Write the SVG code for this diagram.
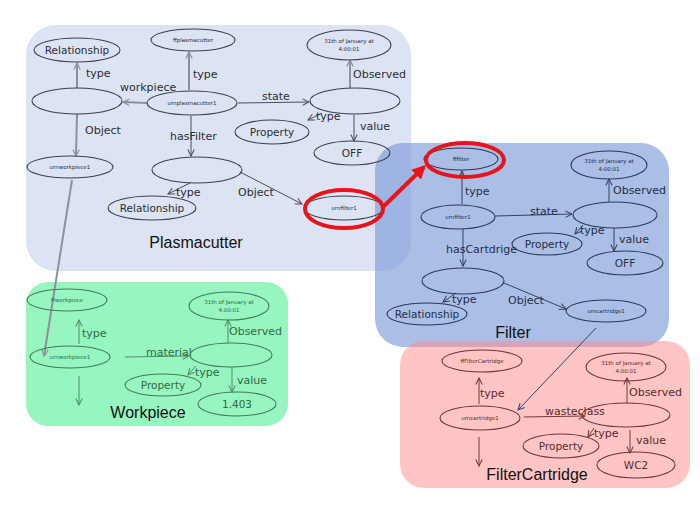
<svg xmlns="http://www.w3.org/2000/svg" width="700" height="525" viewBox="0 0 700 525">
<style>
.n{fill:none;stroke-width:1.1}
.p .n{stroke:#3b404c}
.f .n{stroke:#2c3854}
.w .n{stroke:#3f7d58}
.c .n{stroke:#6e3535}
.t{font-family:"DejaVu Sans","Noto Sans",sans-serif;text-anchor:middle}
.big{font-size:10.5px}
.tiny{font-size:5.5px}
.p .t,.lp{fill:#2a2e36}
.f .t,.lf{fill:#242e48}
.w .t,.lw{fill:#2f6a48}
.c .t,.lc{fill:#5a2a2a}
.lbl{font-family:"DejaVu Sans","Noto Sans",sans-serif;font-size:11px}
.e{fill:none;stroke-width:1}
.ep{stroke:#4a4f5a}
.eg{stroke:#8c919c;stroke-width:2}
.ef{stroke:#36425e}
.ew{stroke:#4f8d68}
.ec{stroke:#703a3a}
.title{font-family:"Liberation Sans",Arial,sans-serif;font-size:16px;fill:#111;text-anchor:middle}
</style>
<defs>
<marker id="ap" viewBox="0 0 10 10" refX="9" refY="5" markerWidth="8" markerHeight="8" markerUnits="userSpaceOnUse" orient="auto"><path d="M1,1 L9,5 L1,9" fill="none" stroke="#4a4f5a" stroke-width="1.3"/></marker>
<marker id="ag" viewBox="0 0 10 10" refX="9" refY="5" markerWidth="8" markerHeight="8" markerUnits="userSpaceOnUse" orient="auto"><path d="M1,1 L9,5 L1,9" fill="none" stroke="#8c919c" stroke-width="1.5"/></marker>
<marker id="af" viewBox="0 0 10 10" refX="9" refY="5" markerWidth="8" markerHeight="8" markerUnits="userSpaceOnUse" orient="auto"><path d="M1,1 L9,5 L1,9" fill="none" stroke="#36425e" stroke-width="1.3"/></marker>
<marker id="aw" viewBox="0 0 10 10" refX="9" refY="5" markerWidth="8" markerHeight="8" markerUnits="userSpaceOnUse" orient="auto"><path d="M1,1 L9,5 L1,9" fill="none" stroke="#4f8d68" stroke-width="1.3"/></marker>
<marker id="ac" viewBox="0 0 10 10" refX="9" refY="5" markerWidth="8" markerHeight="8" markerUnits="userSpaceOnUse" orient="auto"><path d="M1,1 L9,5 L1,9" fill="none" stroke="#703a3a" stroke-width="1.3"/></marker>
<marker id="ar" viewBox="0 0 10 10" refX="8" refY="5" markerWidth="14" markerHeight="14" markerUnits="userSpaceOnUse" orient="auto"><path d="M0,0 L10,5 L0,10 Z" fill="#e8141a"/></marker>
</defs>
<rect width="700" height="525" fill="#fff"/>
<g id="panels">
<rect x="26" y="25" width="385" height="246" rx="30" fill="#dce3f2"/>
<rect x="375" y="143" width="294" height="204" rx="28" fill="#7c9bd8" fill-opacity="0.65"/>
<rect x="26" y="282" width="262" height="144" rx="22" fill="#97f5bf"/>
<rect x="400" y="341" width="290" height="147" rx="24" fill="#ff8a8a" fill-opacity="0.5"/>
<text class="title" x="196" y="248">Plasmacutter</text>
<text class="title" x="513" y="338">Filter</text>
<text class="title" x="148" y="418">Workpiece</text>
<text class="title" x="537" y="480">FilterCartridge</text>
</g>
<g id="connectors">
<!-- Plasmacutter -->
<line class="e eg" x1="77" y1="88" x2="77" y2="63" marker-end="url(#ag)"/>
<text class="lbl lp" x="86" y="77">type</text>
<line class="e eg" x1="147" y1="103" x2="123" y2="102" marker-end="url(#ag)"/>
<text class="lbl lp" x="120" y="91">workpiece</text>
<line class="e eg" x1="189" y1="90" x2="189" y2="52" marker-end="url(#ag)"/>
<text class="lbl lp" x="193" y="78">type</text>
<line class="e ep" x1="238" y1="103" x2="309" y2="102" marker-end="url(#ap)"/>
<text class="lbl lp" x="262" y="100">state</text>
<line class="e eg" x1="350" y1="88" x2="350" y2="60" marker-end="url(#ag)"/>
<text class="lbl lp" x="353" y="78">Observed</text>
<line class="e ep" x1="322" y1="113" x2="308" y2="120" marker-end="url(#ap)"/>
<text class="lbl lp" x="316" y="120">type</text>
<line class="e ep" x1="354" y1="115" x2="354" y2="141" marker-end="url(#ap)"/>
<text class="lbl lp" x="360" y="130">value</text>
<line class="e eg" x1="77" y1="114" x2="76" y2="156" marker-end="url(#ag)"/>
<text class="lbl lp" x="85" y="134">Object</text>
<line class="e ep" x1="191" y1="116" x2="191" y2="156" marker-end="url(#ap)"/>
<text class="lbl lp" x="170" y="140">hasFilter</text>
<line class="e ep" x1="190" y1="183" x2="168" y2="194" marker-end="url(#ap)"/>
<text class="lbl lp" x="176" y="196">type</text>
<line class="e ep" x1="240" y1="172" x2="302" y2="204" marker-end="url(#ap)"/>
<text class="lbl lp" x="238" y="196">Object</text>
<line class="e eg" x1="72" y1="180" x2="44" y2="356" stroke-width="1.6" marker-end="url(#ag)"/>
<!-- Filter -->
<line class="e ef" x1="462" y1="204" x2="462" y2="171" marker-end="url(#af)"/>
<text class="lbl lf" x="465" y="195">type</text>
<line class="e ef" x1="495" y1="216" x2="572" y2="214" marker-end="url(#af)"/>
<text class="lbl lf" x="530" y="215">state</text>
<line class="e ef" x1="609" y1="202" x2="609" y2="179" marker-end="url(#af)"/>
<text class="lbl lf" x="613" y="194">Observed</text>
<line class="e ef" x1="583" y1="225" x2="575" y2="234" marker-end="url(#af)"/>
<text class="lbl lf" x="580" y="234">type</text>
<line class="e ef" x1="614" y1="228" x2="614" y2="251" marker-end="url(#af)"/>
<text class="lbl lf" x="619" y="243">value</text>
<line class="e ef" x1="463" y1="229" x2="463" y2="266" marker-end="url(#af)"/>
<text class="lbl lf" x="446" y="253">hasCartdrige</text>
<line class="e ef" x1="456" y1="293" x2="443" y2="302" marker-end="url(#af)"/>
<text class="lbl lf" x="452" y="303">type</text>
<line class="e ef" x1="504" y1="283" x2="566" y2="309" marker-end="url(#af)"/>
<text class="lbl lf" x="508" y="304">Object</text>
<line class="e ef" x1="596" y1="328" x2="518" y2="410" marker-end="url(#af)"/>
<!-- Workpiece -->
<line class="e ew" x1="79" y1="344" x2="79" y2="320" marker-end="url(#aw)"/>
<text class="lbl lw" x="82" y="337">type</text>
<line class="e ew" x1="125" y1="357" x2="189" y2="356" marker-end="url(#aw)"/>
<text class="lbl lw" x="146" y="356">material</text>
<line class="e ew" x1="228" y1="343" x2="228" y2="320" marker-end="url(#aw)"/>
<text class="lbl lw" x="229" y="335">Observed</text>
<line class="e ew" x1="196" y1="366" x2="188" y2="375" marker-end="url(#aw)"/>
<text class="lbl lw" x="195" y="376">type</text>
<line class="e ew" x1="232" y1="367" x2="232" y2="392" marker-end="url(#aw)"/>
<text class="lbl lw" x="237" y="384">value</text>
<line class="e ew" x1="79" y1="376" x2="79" y2="405" marker-end="url(#aw)"/>
<!-- FilterCartridge -->
<line class="e ec" x1="479" y1="404" x2="479" y2="378" marker-end="url(#ac)"/>
<text class="lbl lc" x="480" y="397">type</text>
<line class="e ec" x1="524" y1="417" x2="585" y2="416" marker-end="url(#ac)"/>
<text class="lbl lc" x="545" y="415">wasteclass</text>
<line class="e ec" x1="627" y1="403" x2="627" y2="378" marker-end="url(#ac)"/>
<text class="lbl lc" x="629" y="396">Observed</text>
<line class="e ec" x1="594" y1="428" x2="588" y2="437" marker-end="url(#ac)"/>
<text class="lbl lc" x="594" y="437">type</text>
<line class="e ec" x1="630" y1="430" x2="630" y2="453" marker-end="url(#ac)"/>
<text class="lbl lc" x="636" y="444">value</text>
<line class="e ec" x1="479" y1="437" x2="479" y2="466" marker-end="url(#ac)"/>
</g>
<!-- Plasmacutter nodes -->
<g class="p">
<g id="p-relationship1"><ellipse class="n" cx="77" cy="50" rx="43" ry="12"/><text class="t big" x="77" y="54">Relationship</text></g>
<g id="p-ffplasmacutter"><ellipse class="n" cx="193" cy="40" rx="42" ry="11"/><text class="t tiny" x="193" y="42">ffplasmacutter</text></g>
<g id="p-time"><ellipse class="n" cx="349" cy="45" rx="42" ry="15"/><text class="t tiny" x="349" y="43">31th of January at</text><text class="t tiny" x="349" y="51">4:00:01</text></g>
<g id="p-blank1"><ellipse class="n" cx="77" cy="101" rx="45" ry="13"/></g>
<g id="p-urnplasmacutter1"><ellipse class="n" cx="192" cy="103" rx="45" ry="12"/><text class="t tiny" x="192" y="105">urnplasmacutter1</text></g>
<g id="p-state"><ellipse class="n" cx="355" cy="101" rx="45" ry="13"/></g>
<g id="p-property"><ellipse class="n" cx="272" cy="132" rx="37" ry="12"/><text class="t big" x="272" y="136">Property</text></g>
<g id="p-off"><ellipse class="n" cx="352" cy="153" rx="38" ry="12"/><text class="t big" x="352" y="157">OFF</text></g>
<g id="p-urnworkpiece1"><ellipse class="n" cx="70" cy="167" rx="43" ry="11"/><text class="t tiny" x="70" y="169">urnworkpiece1</text></g>
<g id="p-hasfilter"><ellipse class="n" cx="197" cy="170" rx="45" ry="13"/></g>
<g id="p-relationship2"><ellipse class="n" cx="152" cy="208" rx="44" ry="12"/><text class="t big" x="152" y="212">Relationship</text></g>
<g id="p-urnfilter1"><ellipse class="n" cx="344" cy="208" rx="40" ry="12"/><text class="t tiny" x="344" y="210">urnfilter1</text></g>
</g>
<!-- Filter nodes -->
<g class="f">
<g id="f-fffilter"><ellipse class="n" cx="461" cy="159" rx="37" ry="11"/><text class="t tiny" x="461" y="161">fffilter</text></g>
<g id="f-time"><ellipse class="n" cx="609" cy="165" rx="38" ry="14"/><text class="t tiny" x="609" y="163">31th of January at</text><text class="t tiny" x="609" y="171">4:00:01</text></g>
<g id="f-urnfilter1"><ellipse class="n" cx="458" cy="217" rx="37" ry="12"/><text class="t tiny" x="458" y="219">urnfilter1</text></g>
<g id="f-state"><ellipse class="n" cx="615" cy="215" rx="42" ry="13"/></g>
<g id="f-property"><ellipse class="n" cx="547" cy="244" rx="35" ry="11"/><text class="t big" x="547" y="248">Property</text></g>
<g id="f-off"><ellipse class="n" cx="625" cy="263" rx="38" ry="12"/><text class="t big" x="625" y="267">OFF</text></g>
<g id="f-hascartridge"><ellipse class="n" cx="463" cy="281" rx="41" ry="13"/></g>
<g id="f-relationship"><ellipse class="n" cx="427" cy="314" rx="40" ry="11"/><text class="t big" x="427" y="318">Relationship</text></g>
<g id="f-urncartridge1"><ellipse class="n" cx="606" cy="311" rx="40" ry="11"/><text class="t tiny" x="606" y="313">urncartridge1</text></g>
</g>
<!-- Workpiece nodes -->
<g class="w">
<g id="w-ffworkpiece"><ellipse class="n" cx="67" cy="300" rx="40" ry="11"/><text class="t tiny" x="67" y="302">ffworkpiece</text></g>
<g id="w-time"><ellipse class="n" cx="229" cy="306" rx="40" ry="14"/><text class="t tiny" x="229" y="304">31th of January at</text><text class="t tiny" x="229" y="312">4:00:01</text></g>
<g id="w-urnworkpiece1"><ellipse class="n" cx="70" cy="357" rx="40" ry="11"/><text class="t tiny" x="70" y="359">urnworkpiece1</text></g>
<g id="w-material"><ellipse class="n" cx="231" cy="355" rx="41" ry="12"/></g>
<g id="w-property"><ellipse class="n" cx="163" cy="385" rx="38" ry="11"/><text class="t big" x="163" y="389">Property</text></g>
<g id="w-value"><ellipse class="n" cx="237" cy="404" rx="39" ry="12"/><text class="t big" x="237" y="408">1.403</text></g>
</g>
<!-- FilterCartridge nodes -->
<g class="c">
<g id="c-fffiltercartridge"><ellipse class="n" cx="482" cy="361" rx="40" ry="11"/><text class="t tiny" x="482" y="363">ffFilterCartridge</text></g>
<g id="c-time"><ellipse class="n" cx="626" cy="367" rx="40" ry="14"/><text class="t tiny" x="626" y="365">31th of January at</text><text class="t tiny" x="626" y="373">4:00:01</text></g>
<g id="c-urncartridge1"><ellipse class="n" cx="480" cy="418" rx="40" ry="12"/><text class="t tiny" x="480" y="420">urncartridge1</text></g>
<g id="c-wasteclass"><ellipse class="n" cx="626" cy="415" rx="44" ry="12"/></g>
<g id="c-property"><ellipse class="n" cx="561" cy="446" rx="38" ry="12"/><text class="t big" x="561" y="450">Property</text></g>
<g id="c-wc2"><ellipse class="n" cx="636" cy="465" rx="39" ry="13"/><text class="t big" x="636" y="469">WC2</text></g>
</g>
<g id="highlight">
<ellipse cx="344" cy="209" rx="39" ry="19" fill="none" stroke="#e8141a" stroke-width="4"/>
<ellipse cx="465" cy="160" rx="39" ry="17" fill="none" stroke="#e8141a" stroke-width="4"/>
<line x1="383" y1="207" x2="424" y2="167" stroke="#e8141a" stroke-width="4" marker-end="url(#ar)"/>
</g>
</svg>
